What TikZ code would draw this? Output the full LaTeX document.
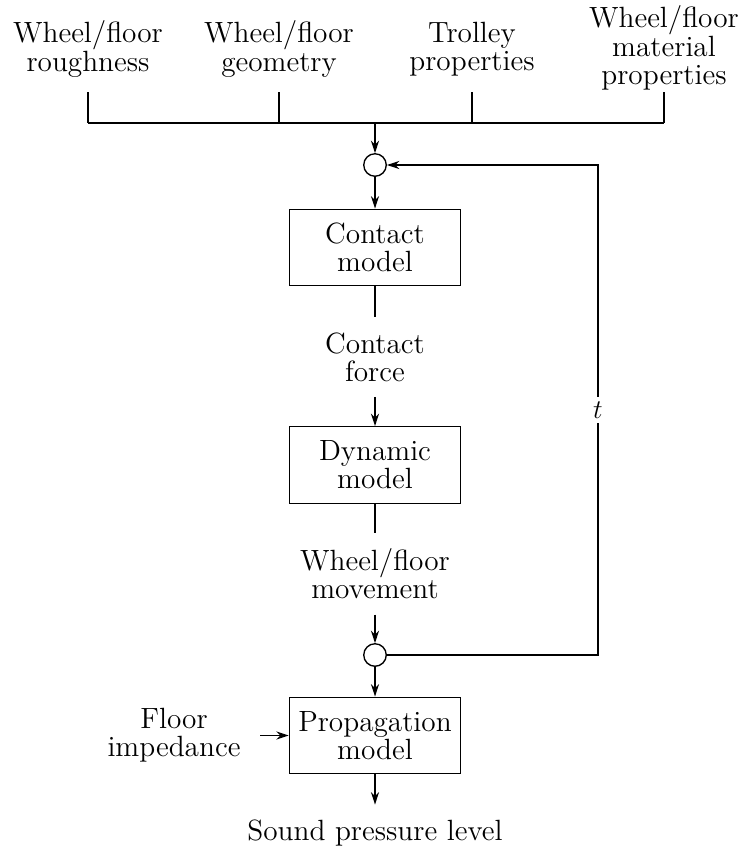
\documentclass[tikz,border=0pt]{standalone}
\usepackage{amsmath, amssymb}
\usepackage{tikz}
\usetikzlibrary{arrows.meta}

\begin{document}
\begin{tikzpicture}[x=0.444pt,y=0.444pt,yscale=-1,xscale=1,
    font=\fontsize{13}{12.5}\selectfont, line width=0.6pt,
    blockbox/.style={draw, minimum width=76pt, minimum height=34pt, align=center, inner sep=2pt},
    sumdot/.style={draw, circle, minimum size=10pt, inner sep=0pt},
    label/.style={align=center, inner sep=6.5pt},
    >={Stealth[length=5.5pt,width=3.6pt]}]
    \useasboundingbox (0,0) rectangle (743,850);

    % Input labels
    \node [label] (rough) at (88,49) {Wheel/floor\\roughness};
    \node [label] (geom) at (279,49) {Wheel/floor\\geometry};
    \node [label] (trolley) at (472,49) {Trolley\\properties};
    \node [label] (matprop) at (664,48) {Wheel/floor\\material\\properties};
    \coordinate (tick) at (0,92);
    \coordinate (bus) at (375,123);

    % Blocks
    \node [sumdot] (sumtop) at (375,165) {};
    \node [blockbox] (contact) at (375,247.5) {Contact\\model};
    \node [label] (cforce) at (375,357) {Contact\\force};
    \node [blockbox] (dynamic) at (375,465) {Dynamic\\model};
    \node [label] (movement) at (375,574) {Wheel/floor\\movement};
    \node [sumdot] (sumbot) at (375,655) {};
    \node [blockbox] (prop) at (375,735.5) {Propagation\\model};
    \node [label] (fimp) at (174,735.5) {Floor\\impedance};
    \node [label] (spl) at (375,833) {Sound pressure level};
    \node [fill=white, inner sep=2pt] (tlab) at (598,410) {$t$};

    % Input bus
    \draw (rough |- tick) -- (rough |- bus);
    \draw (geom |- tick) -- (geom |- bus);
    \draw (trolley |- tick) -- (trolley |- bus);
    \draw (matprop |- tick) -- (matprop |- bus);
    \draw (rough |- bus) -- (matprop |- bus);
    \draw [->] (bus) -- (sumtop.north);

    % Main chain
    \draw [->] (sumtop.south) -- (contact.north);
    \draw (contact.south) -- (cforce.north);
    \draw [->] (cforce.south) -- (dynamic.north);
    \draw (dynamic.south) -- (movement.north);
    \draw [->] (movement.south) -- (sumbot.north);
    \draw [->] (sumbot.south) -- (prop.north);
    \draw [->, shorten <=2pt] (fimp.east) -- (fimp.east -| prop.west);
    \draw [->] (prop.south) -- (spl.north);

    % Feedback
    \draw (sumbot.east) -| (tlab.south);
    \draw [->] (tlab.north) |- (sumtop.east);

\end{tikzpicture}
\end{document}
